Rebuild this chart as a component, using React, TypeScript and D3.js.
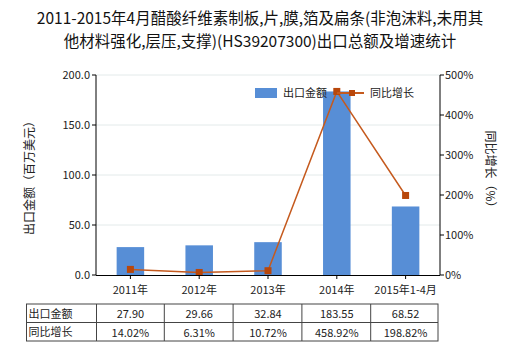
import React from "react";
import * as d3 from "d3";

const categories = ["2011年", "2012年", "2013年", "2014年", "2015年1-4月"];
const exportValues = [27.9, 29.66, 32.84, 183.55, 68.52];
const growthValues = [14.02, 6.31, 10.72, 458.92, 198.82];
const exportLabels = ["27.90", "29.66", "32.84", "183.55", "68.52"];
const growthLabels = ["14.02%", "6.31%", "10.72%", "458.92%", "198.82%"];
const leftTicks = [0, 50, 100, 150, 200];
const rightTicks = [0, 100, 200, 300, 400, 500];
const titleLines = [
  "2011-2015年4月醋酸纤维素制板,片,膜,箔及扁条(非泡沫料,未用其",
  "他材料强化,层压,支撑)(HS39207300)出口总额及增速统计",
];
const seriesNames = ["出口金额", "同比增长"];

const FONT = "'Noto Sans CJK SC', 'Noto Sans', sans-serif";
const BAR = "#578ED6";
const LINE = "#C55A1E";
const MARK = "#B8470B";

export default function App() {
  const left = 96, right = 440, top = 75, bottom = 275;
  const x = d3.scaleBand<string>().domain(categories).range([left, right]).paddingInner(0.6).paddingOuter(0.3);
  const xc = d3.scaleBand<string>().domain(categories).range([left, right]);
  const yL = d3.scaleLinear().domain([0, 200]).range([bottom, top]);
  const yR = d3.scaleLinear().domain([0, 500]).range([bottom, top]);
  const line = d3
    .line<number>()
    .x((_, i) => xc(categories[i])! + xc.bandwidth() / 2)
    .y((d) => yR(d));

  const tLeft = 26.5, tTop = 304, rowH = 18.5;
  const colW = xc.bandwidth();

  return (
    <svg width={520} height={350} style={{ position: "absolute", left: 0, top: 0, fontFamily: FONT }}>
      <rect width={520} height={350} fill="#fff" />
      {titleLines.map((t, i) => (
        <text key={i} x={260} y={24 + i * 23} textAnchor="middle" fontSize={15.5} fill="#111">
          {t}
        </text>
      ))}
      {/* grid */}
      {leftTicks.filter((t) => t > 0).map((t) => (
        <line key={t} x1={left} x2={right} y1={yL(t)} y2={yL(t)} stroke="#E3EAEA" strokeWidth={1} />
      ))}
      {/* bars */}
      {exportValues.map((v, i) => (
        <rect key={i} x={x(categories[i])!} y={yL(v)} width={x.bandwidth()} height={bottom - yL(v)} fill={BAR} />
      ))}
      {/* line */}
      <path d={line(growthValues) || ""} fill="none" stroke={LINE} strokeWidth={1.5} />
      {growthValues.map((v, i) => (
        <rect key={i} x={xc(categories[i])! + xc.bandwidth() / 2 - 3.5} y={yR(v) - 3.5} width={7} height={7} fill={MARK} />
      ))}
      {/* axes */}
      <line x1={left} x2={left} y1={top} y2={bottom} stroke="#000" />
      <line x1={right} x2={right} y1={top} y2={bottom} stroke="#000" />
      <line x1={left} x2={right} y1={bottom + 0.5} y2={bottom + 0.5} stroke="#000" />
      {leftTicks.map((t) => (
        <g key={t}>
          <line x1={left - 4} x2={left} y1={yL(t)} y2={yL(t)} stroke="#000" />
          <text x={left - 6} y={yL(t) + 4} textAnchor="end" fontSize={11} fill="#222">
            {t.toFixed(1)}
          </text>
        </g>
      ))}
      {rightTicks.map((t) => (
        <g key={t}>
          <line x1={right} x2={right + 4} y1={yR(t)} y2={yR(t)} stroke="#000" />
          <text x={right + 5} y={yR(t) + 4} textAnchor="start" fontSize={11} fill="#222">
            {t + "%"}
          </text>
        </g>
      ))}
      {categories.map((c) => (
        <g key={c}>
          <line x1={xc(c)! + colW / 2} x2={xc(c)! + colW / 2} y1={bottom} y2={bottom + 4} stroke="#000" />
          <text x={xc(c)! + colW / 2} y={294} textAnchor="middle" fontSize={11} fill="#222">
            {c}
          </text>
        </g>
      ))}
      {/* axis titles */}
      <text transform={`translate(34,175) rotate(-90)`} textAnchor="middle" fontSize={12} fill="#222">
        出口金额（百万美元）
      </text>
      <text transform={`translate(486,172) rotate(90)`} textAnchor="middle" fontSize={12} fill="#222">
        同比增长（%）
      </text>
      {/* legend */}
      <rect x={255} y={88} width={22} height={10} fill={BAR} />
      <text x={283} y={97} fontSize={11} fill="#222">
        {seriesNames[0]}
      </text>
      <line x1={337} x2={364} y1={93} y2={93} stroke={LINE} strokeWidth={2} />
      <rect x={349} y={90} width={6} height={6} fill={MARK} />
      <text x={370} y={97} fontSize={11} fill="#222">
        {seriesNames[1]}
      </text>
      {/* table */}
      <g stroke="#444" strokeWidth={1} fill="none">
        <rect x={tLeft} y={tTop} width={right - 2 - tLeft} height={rowH * 2} />
        <line x1={tLeft} x2={right - 2} y1={tTop + rowH} y2={tTop + rowH} />
        <line x1={left + 0.5} x2={left + 0.5} y1={tTop} y2={tTop + rowH * 2} />
        {categories.slice(0, 4).map((c) => (
          <line key={c} x1={xc(c)! + colW - 0.5} x2={xc(c)! + colW - 0.5} y1={tTop} y2={tTop + rowH * 2} />
        ))}
      </g>
      {seriesNames.map((n, r) => (
        <text key={n} x={tLeft + 2} y={tTop + rowH * r + 13.5} fontSize={11} fill="#222">
          {n}
        </text>
      ))}
      {[exportLabels, growthLabels].map((row, r) =>
        row.map((v, i) => (
          <text key={r + "-" + i} x={xc(categories[i])! + colW / 2} y={tTop + rowH * r + 14} textAnchor="middle" fontSize={11} fill="#222">
            {v}
          </text>
        ))
      )}
    </svg>
  );
}
